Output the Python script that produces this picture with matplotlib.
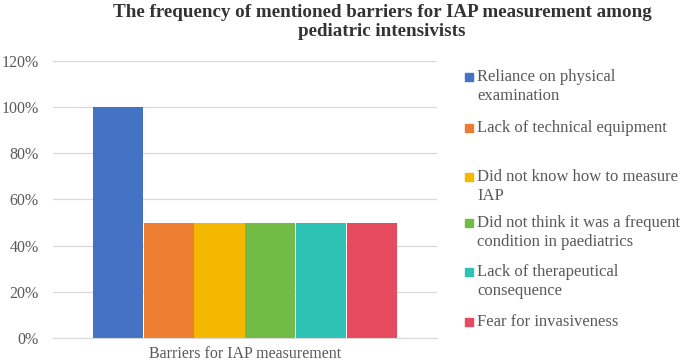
import matplotlib.pyplot as plt
from matplotlib.patches import Rectangle
from matplotlib.ticker import PercentFormatter

plt.rcParams['font.family'] = ['Liberation Serif', 'DejaVu Serif']

category = ['Barriers for IAP measurement']
barriers = ['Reliance on physical\nexamination',
            'Lack of technical equipment',
            'Did not know how to measure\nIAP',
            'Did not think it was a frequent\ncondition in paediatrics',
            'Lack of therapeutical\nconsequence',
            'Fear for invasiveness']
values = [100, 50, 50, 50, 50, 50]
colors = ['#4472C4', '#ED7D31', '#F5B800', '#72BB44', '#2EC2B4', '#E64A5E']

fig = plt.figure(figsize=(6.85, 3.63), dpi=100)
ax = fig.add_axes([0.077, 0.069, 0.561, 0.763])

n = len(values)
w = 0.794 / n
for i, (v, c) in enumerate(zip(values, colors)):
    ax.bar(0 - 0.397 + w * (i + 0.5), v, width=w * 0.985, color=c)

ax.set_xlim(-0.5, 0.5)
ax.set_ylim(0, 120)
ax.set_yticks(range(0, 121, 20))
ax.yaxis.set_major_formatter(PercentFormatter(decimals=0))
ax.set_xticks([0])
ax.set_xticklabels(category)
ax.grid(axis='y', color='#D9D9D9', linewidth=0.9)
ax.set_axisbelow(True)
for s in ['top', 'right', 'left']:
    ax.spines[s].set_visible(False)
ax.spines['bottom'].set_color('#D9D9D9')
ax.tick_params(length=0, labelsize=11.5, colors='#595959', pad=6)
ax.tick_params(axis='y', pad=10)

fig.text(0.558, 0.99, 'The frequency of mentioned barriers for IAP measurement among\npediatric intensivists',
         ha='center', va='top', fontsize=13.7, fontweight='bold', color='#333333', linespacing=1.2)

# legend, drawn by hand so the swatch sits on the first line
ys = [77, 128, 177, 223, 272, 322]
for lab, c, y in zip(barriers, colors, ys):
    fy = 1 - y / 363
    fig.patches.append(Rectangle((465 / 685, fy - 4 / 363), 8 / 685, 8 / 363,
                                 transform=fig.transFigure, color=c))
    fig.text(477 / 685, fy + 8 / 363, lab, ha='left', va='top', fontsize=12,
             color='#595959', linespacing=1.25)

fig.savefig('out.png', dpi=100)
